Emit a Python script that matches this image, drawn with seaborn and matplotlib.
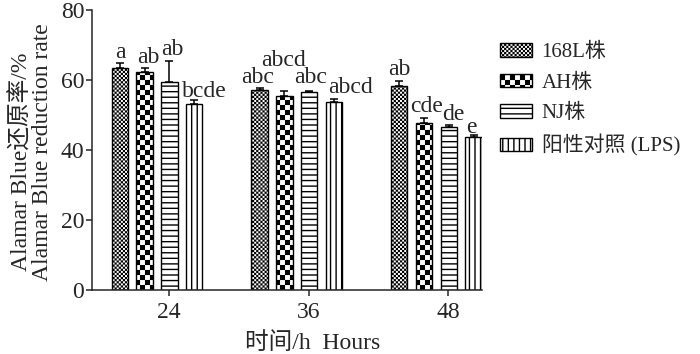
import warnings
import numpy as np
import pandas as pd
import matplotlib
matplotlib.use("Agg")
import matplotlib.pyplot as plt
import matplotlib.hatch as mhatch
from matplotlib.path import Path
import seaborn as sns

warnings.filterwarnings("ignore")

# ---------------- data ----------------
hours = ["24", "36", "48"]
strains = ["168L株", "AH株", "NJ株", "阳性对照 (LPS)"]
val_168L = [63.5, 57.1, 58.3]
val_AH = [62.4, 55.5, 47.8]
val_NJ = [59.5, 56.6, 46.5]
val_LPS = [53.2, 53.7, 43.6]
err_168L = [1.5, 0.6, 1.4]
err_AH = [1.1, 1.4, 1.4]
err_NJ = [5.8, 0.3, 0.6]
err_LPS = [1.0, 0.8, 0.8]
sig_168L = ["a", "abc", "ab"]
sig_AH = ["ab", "abcd", "cde"]
sig_NJ = ["ab", "abc", "de"]
sig_LPS = ["bcde", "abcd", "e"]

values = [val_168L, val_AH, val_NJ, val_LPS]
errors = [err_168L, err_AH, err_NJ, err_LPS]
sigs = [sig_168L, sig_AH, sig_NJ, sig_LPS]

df = pd.DataFrame({
    "hour": [h for _ in strains for h in hours],
    "strain": [s for s in strains for _ in hours],
    "value": [v for vs in values for v in vs],
})


# ---------------- custom checkerboard hatch ----------------
class CheckerHatch(mhatch.HatchPatternBase):
    inset = 0.0065

    def __init__(self, hatch, density):
        self.n = 2 * hatch.count("c")
        self.num_vertices = (self.n * self.n // 2) * 5 if self.n else 0

    def set_vertices_and_codes(self, vertices, codes):
        n = self.n
        s = 1.0 / n
        d = self.inset
        k = 0
        for i in range(n):
            for j in range(n):
                if (i + j) % 2 == 0:
                    x0, x1 = i * s + d, (i + 1) * s - d
                    y0, y1 = j * s + d, (j + 1) * s - d
                    vertices[k:k + 5] = [[x0, y0], [x1, y0], [x1, y1], [x0, y1], [x0, y0]]
                    codes[k:k + 5] = [Path.MOVETO, Path.LINETO, Path.LINETO,
                                      Path.LINETO, Path.CLOSEPOLY]
                    k += 5


mhatch._hatch_types.append(CheckerHatch)

hatches = ["c" * 24, "c" * 10, "---", "|||"]

# ---------------- style ----------------
sns.set_style("ticks")
plt.rcParams["font.family"] = ["Liberation Serif", "Noto Sans CJK SC", "DejaVu Sans"]
plt.rcParams["hatch.linewidth"] = 1.0
plt.rcParams["hatch.color"] = "black"
plt.rcParams["axes.linewidth"] = 1.1

fig = plt.figure(figsize=(7.0, 3.54), dpi=100)
ax = fig.add_axes([92 / 700, (354 - 290) / 354, (482 - 92) / 700, 280 / 354])

sns.barplot(data=df, x="hour", y="value", hue="strain", hue_order=strains,
            order=hours, palette=["white"] * 4, saturation=1, edgecolor="black",
            linewidth=1.0, width=0.71, gap=0.335, errorbar=None, legend=False, ax=ax)

bar_conts = list(ax.containers)

# label offsets (px) relative to bar centre / error-bar top
label_dx = [[0.5, -1.5, 0], [3.5, -1, 2.5], [2.5, 1, 4.5], [10.5, 17, -2]]
label_dy = [[5, 5, 6], [5, 25, 6], [6, 8, 5], [3, 6, 1.5]]
px2pt = 72 / 100

for i, cont in enumerate(bar_conts):
    xs = []
    for bar in cont.patches:
        bar.set_hatch(hatches[i])
        xs.append(bar.get_x() + bar.get_width() / 2)
    xs = np.array(xs)
    v = np.array(values[i])
    e = np.array(errors[i])
    ax.errorbar(xs, v, yerr=[np.zeros_like(e), e], fmt="none", ecolor="black",
                elinewidth=1.1, capsize=3.2, capthick=1.1, zorder=3)
    for j in range(len(xs)):
        ax.annotate(sigs[i][j], xy=(xs[j], v[j] + e[j]),
                    xytext=(label_dx[i][j] * px2pt, label_dy[i][j] * px2pt),
                    textcoords="offset points", ha="center", va="baseline",
                    fontsize=17)

ax.set_ylim(0, 80)
ax.set_yticks([0, 20, 40, 60, 80])
ax.set_xlim(-0.465, 2.326)
ax.set_xticks([0.086, 1.086, 2.086])
ax.set_xticklabels(hours)
ax.tick_params(axis="both", labelsize=17, length=4.5, width=1.1, direction="out")
ax.tick_params(axis="y", pad=1)
ax.tick_params(axis="x", pad=4)
ax.set_xlabel("")
ax.set_ylabel("")
sns.despine(ax=ax)

fig.text(313 / 700, 1 - 343 / 354, "时间/h  Hours", ha="center", va="center", fontsize=17)
fig.text(21 / 700, 1 - 162 / 354, "Alamar Blue还原率/%", rotation=90,
         ha="center", va="center", fontsize=17)
fig.text(43 / 700, 1 - 152 / 354, "Alamar Blue reduction rate", rotation=90,
         ha="center", va="center", fontsize=17)

leg = fig.legend(handles=bar_conts, labels=strains, loc="upper left",
                 bbox_to_anchor=(500 / 700, 1 - 43 / 354), frameon=False,
                 fontsize=15, handlelength=1.55, handleheight=0.62,
                 handletextpad=0.45, labelspacing=0.55, borderpad=0, borderaxespad=0)

fig.savefig("out.png", dpi=100)
